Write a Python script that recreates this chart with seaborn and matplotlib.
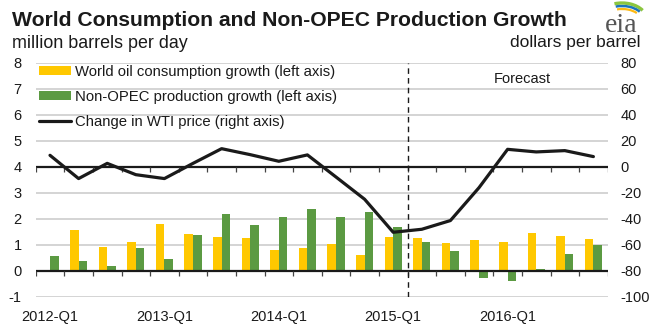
import numpy as np
import pandas as pd
import matplotlib
matplotlib.use("Agg")
import matplotlib.pyplot as plt
import seaborn as sns
from matplotlib.patches import Patch, Arc
from matplotlib.lines import Line2D

# ---------------- data ----------------
quarters = ["2012-Q1", "2012-Q2", "2012-Q3", "2012-Q4",
            "2013-Q1", "2013-Q2", "2013-Q3", "2013-Q4",
            "2014-Q1", "2014-Q2", "2014-Q3", "2014-Q4",
            "2015-Q1", "2015-Q2", "2015-Q3", "2015-Q4",
            "2016-Q1", "2016-Q2", "2016-Q3", "2016-Q4"]
consumption = [0.03, 1.58, 0.91, 1.12, 1.81, 1.44, 1.32, 1.27, 0.81, 0.88,
               1.05, 0.60, 1.31, 1.26, 1.08, 1.19, 1.13, 1.45, 1.35, 1.23]
non_opec = [0.57, 0.40, 0.21, 0.88, 0.47, 1.38, 2.19, 1.78, 2.08, 2.38,
            2.06, 2.27, 1.68, 1.10, 0.76, -0.26, -0.37, 0.06, 0.65, 0.99]
wti_change = [9.0, -8.9, 2.8, -5.9, -8.9, 2.8, 14.1, 9.5, 4.4, 9.3,
              -7.7, -24.8, -50.2, -47.9, -41.2, -15.9, 13.6, 11.6, 12.6, 8.0]
xtick_labels = ["2012-Q1", "2013-Q1", "2014-Q1", "2015-Q1", "2016-Q1"]
series_names = ["World oil consumption growth (left axis)",
                "Non-OPEC production growth (left axis)",
                "Change in WTI price (right axis)"]
left_ticks = [-1, 0, 1, 2, 3, 4, 5, 6, 7, 8]
right_ticks = [-100, -80, -60, -40, -20, 0, 20, 40, 60, 80]

YELLOW = "#FFC800"
GREEN = "#5B9A42"
GRID = "#C9C9C9"
INK = "#1a1a1a"

bars = pd.DataFrame({
    "quarter": quarters * 2,
    "value": consumption + non_opec,
    "series": [series_names[0]] * len(quarters) + [series_names[1]] * len(quarters),
})
pos = np.arange(len(quarters))
line_df = pd.DataFrame({"pos": pos, "wti": wti_change})

# ---------------- figure ----------------
sns.set_theme(style="white")
plt.rcParams["font.family"] = ["Liberation Sans", "DejaVu Sans"]

fig = plt.figure(figsize=(6.64, 3.33), dpi=100)
ax = fig.add_axes([35.7 / 664, 1 - 297 / 333, 572 / 664, 234 / 333])

sns.barplot(data=bars, x="quarter", y="value", hue="series",
            palette=[YELLOW, GREEN], width=0.6, gap=0, linewidth=0,
            saturation=1, ax=ax, legend=False, zorder=2)

ax.set_xlim(-0.5, len(quarters) - 0.5)
ax.set_ylim(-1, 8)
ax.set_yticks(left_ticks)
ax.set_yticklabels([str(t) for t in left_ticks])
for t in left_ticks:
    if t not in (0, 4):
        ax.axhline(t, color=GRID, lw=1.1, zorder=0.5)
ax.axhline(0, color=INK, lw=1.6, zorder=3)
ax.axhline(4, color=INK, lw=1.6, zorder=3)
# small tick marks at category boundaries on both zero lines
bounds = np.arange(len(quarters) + 1) - 0.5
for base in (0, 4):
    ax.vlines(bounds, base - 0.2, base, color="#444444", lw=0.9, zorder=3)
# forecast divider
ax.axvline(12.5, color=INK, lw=1.0, ls=(0, (4, 3)), zorder=3)
ax.text(16.5, 7.4, "Forecast", ha="center", va="center", fontsize=10.5,
        color=INK)

ax.set_xticks([quarters.index(q) for q in xtick_labels])
ax.set_xticklabels(xtick_labels)
ax.tick_params(axis="x", length=0, pad=9, labelsize=10.5, colors=INK)
ax.tick_params(axis="y", length=0, pad=10, labelsize=10.5, colors=INK)
ax.set_xlabel("")
ax.set_ylabel("")
for s in ax.spines.values():
    s.set_visible(False)

ax2 = ax.twinx()
sns.lineplot(data=line_df, x="pos", y="wti", color=INK, lw=2.3,
             ax=ax2, zorder=4)
ax2.set_ylim(-100, 80)
ax2.set_yticks(right_ticks)
ax2.set_yticklabels([str(t) for t in right_ticks])
ax2.tick_params(axis="y", length=0, pad=9, labelsize=10.5, colors=INK)
ax2.set_ylabel("")
ax2.set_xlabel("")
for s in ax2.spines.values():
    s.set_visible(False)

handles = [Patch(facecolor=YELLOW, edgecolor="none"),
           Patch(facecolor=GREEN, edgecolor="none"),
           Line2D([], [], color=INK, lw=2.3)]
leg = ax2.legend(handles, series_names, loc="upper left",
                 bbox_to_anchor=(0.0, 1.005), frameon=False, fontsize=10.7,
                 handlelength=2.2, handleheight=0.55, handletextpad=0.25,
                 labelspacing=0.75, borderaxespad=0.2, borderpad=0.0)
for t in leg.get_texts():
    t.set_color(INK)

# titles
fig.text(12 / 664, 1 - 20.5 / 333, "World Consumption and Non-OPEC Production Growth",
         fontsize=15.2, fontweight="bold", color=INK, va="center", ha="left")
fig.text(12 / 664, 1 - 43 / 333, "million barrels per day", fontsize=12.9,
         color=INK, va="center", ha="left")
fig.text(641 / 664, 1 - 43 / 333, "dollars per barrel", fontsize=12.5,
         color=INK, va="center", ha="right")

# eia logo
fig.text(621 / 664, 1 - 25 / 333, "eia", fontsize=20, family="Liberation Serif",
         color="#555555", ha="center", va="center")
lax = fig.add_axes([600 / 664, 1 - 20 / 333, 46 / 664, 19 / 333])
lax.set_xlim(0, 46)
lax.set_ylim(0, 19)
lax.axis("off")
for (w, h, c, lw) in [(50, 34, "#8CC63F", 2.4), (44, 28, "#1B75BB", 1.8), (38, 22, "#FDB913", 1.6)]:
    lax.add_patch(Arc((22, 0), w, h, theta1=25, theta2=115, color=c, lw=lw))

fig.savefig("out.png", dpi=100)
